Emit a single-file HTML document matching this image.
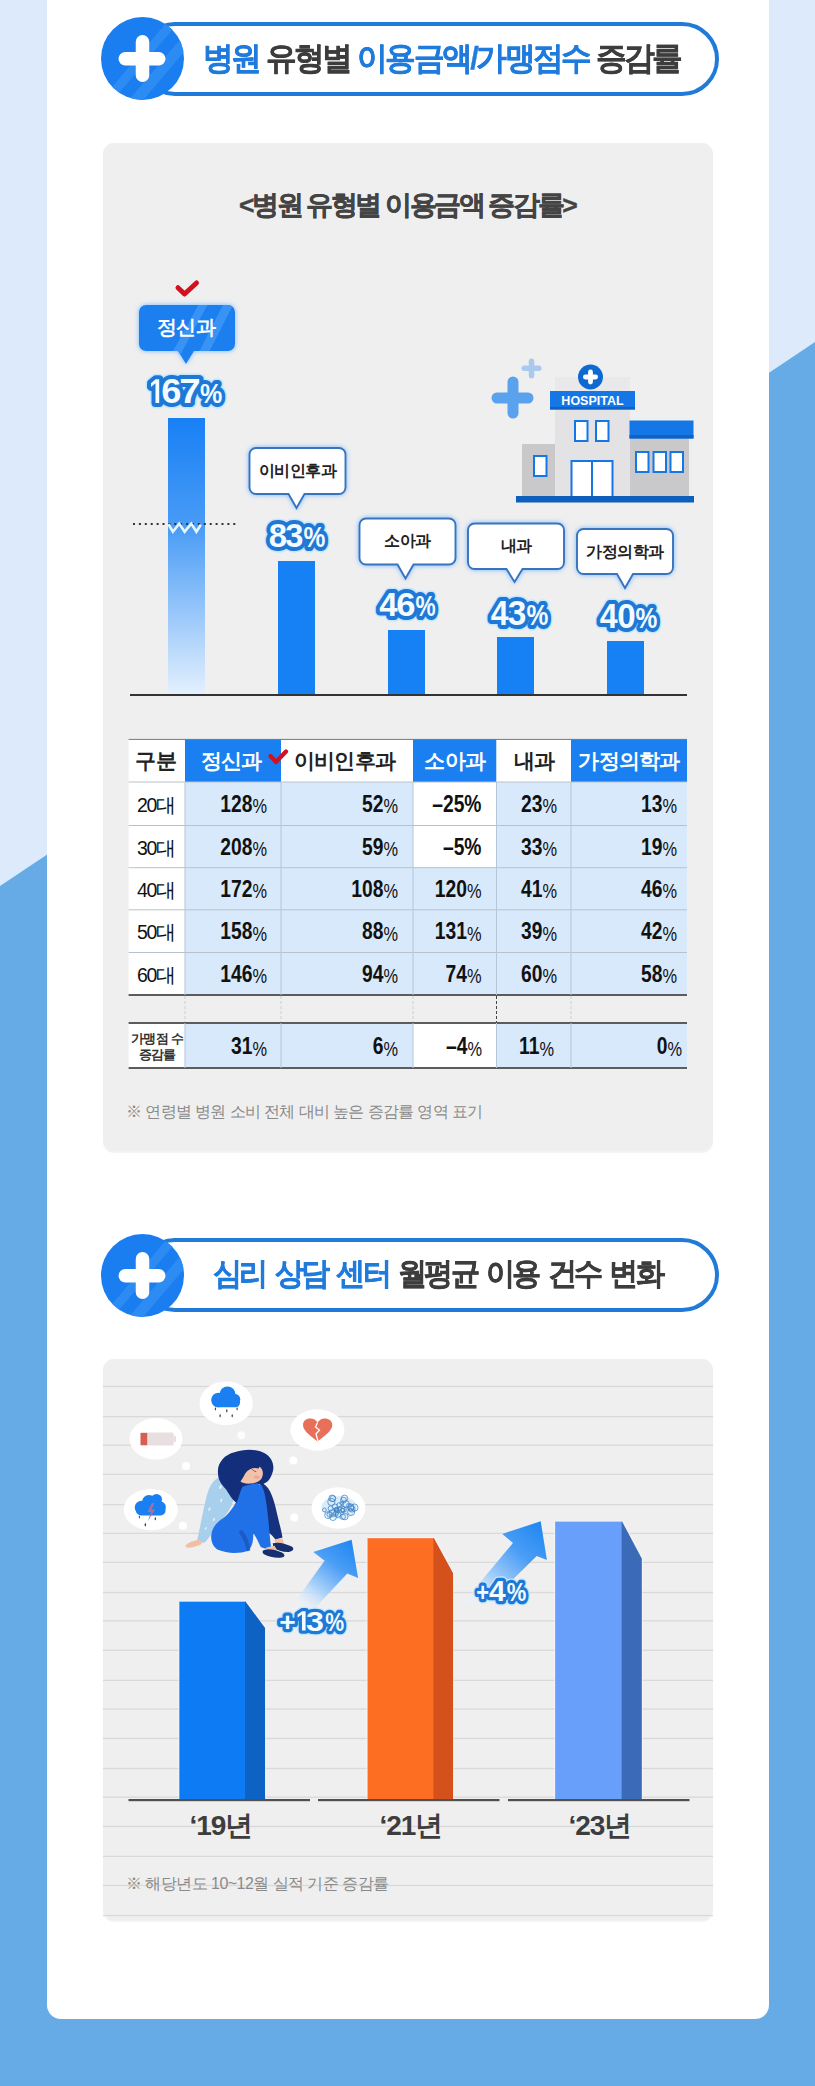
<!DOCTYPE html>
<html><head><meta charset="utf-8">
<style>
*{box-sizing:border-box;margin:0;padding:0}
html,body{width:815px;height:2086px;overflow:hidden}
body{position:relative;background:#dceafb;font-family:"Liberation Sans",sans-serif;color:#333}
.abs{position:absolute}
#bg{position:absolute;left:0;top:0}
#card{position:absolute;left:47px;top:-30px;width:722px;height:2049px;background:#fff;border-radius:14px}
.pill{position:absolute;left:138px;width:581px;height:74px;border:4.6px solid #1f7ad9;border-radius:37px;background:#fff}
.circ{position:absolute;width:83px;height:83px}
.htxt{position:absolute;font-weight:bold;white-space:nowrap;color:#3d3d3d;-webkit-text-stroke:0.35px currentColor}
.htxt b{color:#1f7bdc}
.panel{position:absolute;left:103px;width:610px;background:#efefef;border-radius:11px;box-shadow:0 1.5px 1px rgba(0,0,0,0.05)}
.lbl{text-align:center;font-weight:bold;white-space:nowrap;color:#222;letter-spacing:-0.5px}
.pg,.pst,.pf,.pg2,.pst2{font-family:"Liberation Sans",sans-serif;font-weight:bold;stroke-linejoin:round}
.pg{fill:#c4e8ff;stroke:#c4e8ff;stroke-width:11}
.pst{fill:#1f78d6;stroke:#1f78d6;stroke-width:8}
.pg2{fill:#c4e8ff;stroke:#c4e8ff;stroke-width:9}
.pst2{fill:#1f78d6;stroke:#1f78d6;stroke-width:6.5}
.pf{fill:#f2fbff;stroke:none}
.th{font-family:"Liberation Sans",sans-serif;font-weight:bold;font-size:21px;text-anchor:middle;letter-spacing:-0.8px}
.tl{font-family:"Liberation Sans",sans-serif;font-size:19.5px;text-anchor:middle;fill:#111;letter-spacing:-1.2px}
.tk{font-family:"Liberation Sans",sans-serif;font-size:13px;font-weight:bold;text-anchor:middle;fill:#333;letter-spacing:-0.8px}
.tn{font-family:"Liberation Sans",sans-serif;font-size:23.5px;font-weight:bold;fill:#111}
.tp{font-weight:normal;font-size:20px}
.yr{font-family:"Liberation Sans",sans-serif;font-weight:bold;font-size:28px;fill:#3d3d3d;letter-spacing:-1px}
</style></head>
<body>
<svg id="bg" width="815" height="2086"><polygon points="0,886 815,342 815,2086 0,2086" fill="#67abe6"/></svg>
<div id="card"></div>

<!-- header 1 -->
<div class="pill" style="top:21.5px"></div>
<svg class="circ" style="left:101px;top:17px" viewBox="0 0 83 83">
  <defs><clipPath id="cc1"><circle cx="41.5" cy="41.5" r="41.5"/></clipPath></defs>
  <circle cx="41.5" cy="41.5" r="41.5" fill="#1b7ef0"/>
  <g clip-path="url(#cc1)" stroke="#2d8cf4" fill="none">
    <line x1="82" y1="-7" x2="2" y2="88" stroke-width="9"/>
    <line x1="95" y1="12" x2="25" y2="95" stroke-width="11"/>
  </g>
  <rect x="17.5" y="35" width="47" height="13.5" rx="6.75" fill="#fff"/>
  <rect x="34.75" y="18" width="13.5" height="47" rx="6.75" fill="#fff"/>
</svg>
<div class="htxt" id="h1" style="left:203px;top:37px;font-size:32px;letter-spacing:-2.5px;word-spacing:0px;transform:scaleX(0.96);transform-origin:0 0"><b>병원</b> 유형별 <b>이용금액/가맹점수</b> 증감률</div>

<!-- panel 1 -->
<div class="panel" style="top:143px;height:1008px"></div>


<!-- chart 1 -->
<div class="abs" id="c1title" style="left:239px;top:187px;font-size:26.5px;font-weight:bold;color:#444;white-space:nowrap;letter-spacing:-2.4px;-webkit-text-stroke:0.4px #444">&lt;병원 유형별 이용금액 증감률&gt;</div>
<svg class="abs" style="left:0;top:0" width="815" height="720">
  <defs>
    <linearGradient id="g1" x1="0" y1="0" x2="0" y2="1">
      <stop offset="0" stop-color="#1880f5"/>
      <stop offset="0.4" stop-color="#4a9cf6"/>
      <stop offset="1" stop-color="#e3f0fe"/>
    </linearGradient>
    <filter id="glow" x="-20%" y="-20%" width="140%" height="140%"><feDropShadow dx="0" dy="0" stdDeviation="2.4" flood-color="#74b8ff" flood-opacity="1"/></filter>
    <clipPath id="bb1"><path d="M146,305 h82 a7,7 0 0 1 7,7 v32 a7,7 0 0 1 -7,7 h-34 l-8,13 l-8,-13 h-32 a7,7 0 0 1 -7,-7 v-32 a7,7 0 0 1 7,-7z"/></clipPath>
  </defs>
  <!-- bars -->
  <rect x="168" y="418" width="37" height="276" fill="url(#g1)"/>
  <rect x="278" y="561" width="37" height="133" fill="#1680f5"/>
  <rect x="388" y="630" width="37" height="64" fill="#1680f5"/>
  <rect x="497" y="637" width="37" height="57" fill="#1680f5"/>
  <rect x="607" y="641" width="37" height="53" fill="#1680f5"/>
  <line x1="130" y1="695" x2="687" y2="695" stroke="#333" stroke-width="2"/>
  <!-- dotted -->
  <line x1="133" y1="524" x2="237" y2="524" stroke="#333" stroke-width="2" stroke-dasharray="2,3.9"/>
  <polyline points="168.4,524.3 172.9,531.7 179.2,523.6 184.6,531.7 191.3,523.6 196.4,531.7 200.8,524.7" fill="none" stroke="#e6f6ff" stroke-width="2.6"/>
  <!-- check -->
  <polyline points="178,287.7 184.5,294 196.5,283" fill="none" stroke="#d60f1e" stroke-width="5" stroke-linecap="round" stroke-linejoin="round"/>
  <!-- blue bubble -->
  <g filter="url(#glow)">
    <path d="M146,305 h82 a7,7 0 0 1 7,7 v32 a7,7 0 0 1 -7,7 h-34 l-8,13 l-8,-13 h-32 a7,7 0 0 1 -7,-7 v-32 a7,7 0 0 1 7,-7z" fill="#1b7ff0"/>
  </g>
  <g clip-path="url(#bb1)" stroke="#3893f5" fill="none">
    <line x1="204" y1="303" x2="175" y2="356" stroke-width="8"/>
    <line x1="229" y1="303" x2="202" y2="356" stroke-width="9"/>
  </g>
  <!-- white bubbles -->
  <g filter="url(#glow)" fill="#fff" stroke="#3873bf" stroke-width="1.9">
    <path d="M256,448 h83 a6.5,6.5 0 0 1 6.5,6.5 v33 a6.5,6.5 0 0 1 -6.5,6.5 h-34.5 l-8,14 l-8,-14 h-32.5 a6.5,6.5 0 0 1 -6.5,-6.5 v-33 a6.5,6.5 0 0 1 6.5,-6.5z"/>
    <path d="M366,518.5 h83 a6.5,6.5 0 0 1 6.5,6.5 v33 a6.5,6.5 0 0 1 -6.5,6.5 h-35.5 l-8,14 l-8,-14 h-31.5 a6.5,6.5 0 0 1 -6.5,-6.5 v-33 a6.5,6.5 0 0 1 6.5,-6.5z"/>
    <path d="M474.5,523.5 h83 a6.5,6.5 0 0 1 6.5,6.5 v32.5 a6.5,6.5 0 0 1 -6.5,6.5 h-35 l-8,13 l-8,-13 h-32 a6.5,6.5 0 0 1 -6.5,-6.5 v-32.5 a6.5,6.5 0 0 1 6.5,-6.5z"/>
    <path d="M583.5,529 h83 a6.5,6.5 0 0 1 6.5,6.5 v32 a6.5,6.5 0 0 1 -6.5,6.5 h-33.5 l-8,14 l-8,-14 h-33.5 a6.5,6.5 0 0 1 -6.5,-6.5 v-32 a6.5,6.5 0 0 1 6.5,-6.5z"/>
  </g>
  <!-- hospital -->
  <g id="hosp">
    <rect x="491.5" y="392.5" width="42" height="11" rx="5.5" fill="#5aa2ee"/>
    <rect x="507.5" y="376.5" width="11" height="42" rx="5.5" fill="#5aa2ee"/>
    <rect x="521.5" y="365.5" width="20" height="5.5" rx="2.75" fill="#a9c9ef"/>
    <rect x="528.75" y="358.5" width="5.5" height="20" rx="2.75" fill="#a9c9ef"/>
    <rect x="555" y="377" width="75" height="15" fill="#e9e9eb"/>
    <rect x="555" y="392" width="75" height="105" fill="#e3e3e5"/>
    <rect x="522" y="444" width="33" height="53" fill="#c9c9cb"/>
    <rect x="630" y="436" width="59" height="61" fill="#c9c9cb"/>
    <rect x="629.5" y="420.5" width="64" height="18" fill="#1577e6"/>
    <rect x="629.5" y="435" width="64" height="3.5" fill="#0f62c4"/>
    <rect x="550" y="391" width="85" height="18.5" fill="#1577e6"/>
    <rect x="550" y="407" width="85" height="2.5" fill="#0f62c4"/>
    <circle cx="590.5" cy="377" r="12.5" fill="#0e69d2"/>
    <rect x="583" y="374.6" width="15" height="4.8" rx="2.4" fill="#fff"/>
    <rect x="588.1" y="369.5" width="4.8" height="15" rx="2.4" fill="#fff"/>
    <text x="592.5" y="405" text-anchor="middle" font-family="Liberation Sans" font-weight="bold" font-size="12.5" fill="#fff">HOSPITAL</text>
    <g fill="#fff" stroke="#1577e6" stroke-width="2">
      <rect x="575" y="421" width="12.5" height="20"/>
      <rect x="596" y="421" width="12.5" height="20"/>
      <rect x="534" y="456" width="12.5" height="20"/>
      <rect x="636" y="452" width="12.5" height="20"/>
      <rect x="653.5" y="452" width="12.5" height="20"/>
      <rect x="670.5" y="452" width="12.5" height="20"/>
      <rect x="571.5" y="461" width="41" height="36"/>
    </g>
    <line x1="592" y1="461" x2="592" y2="497" stroke="#1577e6" stroke-width="2"/>
    <rect x="516" y="496" width="178" height="6.5" fill="#0d5fbb"/>
  </g>
</svg>
<div class="abs lbl" style="left:138px;top:303.5px;width:96px;height:46px;line-height:46px;color:#fff;font-size:20px">정신과</div>
<div class="abs lbl" style="left:249px;top:448px;width:97px;height:46px;line-height:46px;font-size:16px">이비인후과</div>
<div class="abs lbl" style="left:359px;top:518px;width:97px;height:46px;line-height:46px;font-size:16px">소아과</div>
<div class="abs lbl" style="left:468px;top:523px;width:96px;height:46px;line-height:46px;font-size:16px">내과</div>
<div class="abs lbl" style="left:577px;top:529px;width:96px;height:45px;line-height:45px;font-size:16px">가정의학과</div>
<svg class="abs" style="left:0;top:0" width="815" height="720" id="pcts">
<path class="pg" vector-effect="non-scaling-stroke" transform="translate(149.15,403) scale(0.01325,-0.01680)" d="M478,0 L478,1170 L140,959 L140,1180 L493,1409 L759,1409 L759,0 Z"/>
<text class="pg" transform="translate(161.36,403) scale(1.053,1)" font-size="34.4">6</text>
<text class="pg" transform="translate(179.14,403) scale(1.122,1)" font-size="34.4">7</text>
<text class="pg" transform="translate(199.97,403) scale(0.895,1)" font-size="28">%</text>
<text class="pg" transform="translate(268.75,547.4) scale(0.990,1)" font-size="33.2">8</text>
<text class="pg" transform="translate(285.25,547.4) scale(0.982,1)" font-size="33.2">3</text>
<text class="pg" transform="translate(303.59,547.4) scale(0.848,1)" font-size="29">%</text>
<text class="pg" transform="translate(379.30,616.4) scale(0.980,1)" font-size="33.7">4</text>
<text class="pg" transform="translate(396.22,616.4) scale(1.026,1)" font-size="33.7">6</text>
<text class="pg" transform="translate(415.43,616.4) scale(0.782,1)" font-size="29">%</text>
<text class="pg" transform="translate(490.82,624.8) scale(0.933,1)" font-size="34.4">4</text>
<text class="pg" transform="translate(507.73,624.8) scale(0.971,1)" font-size="34.4">3</text>
<text class="pg" transform="translate(526.49,624.8) scale(0.833,1)" font-size="29.5">%</text>
<text class="pg" transform="translate(599.82,627.9) scale(0.933,1)" font-size="34.4">4</text>
<text class="pg" transform="translate(617.18,627.9) scale(0.961,1)" font-size="34.4">0</text>
<text class="pg" transform="translate(635.49,627.9) scale(0.833,1)" font-size="29.5">%</text>
<path class="pst" vector-effect="non-scaling-stroke" transform="translate(149.15,403) scale(0.01325,-0.01680)" d="M478,0 L478,1170 L140,959 L140,1180 L493,1409 L759,1409 L759,0 Z"/>
<text class="pst" transform="translate(161.36,403) scale(1.053,1)" font-size="34.4">6</text>
<text class="pst" transform="translate(179.14,403) scale(1.122,1)" font-size="34.4">7</text>
<text class="pst" transform="translate(199.97,403) scale(0.895,1)" font-size="28">%</text>
<text class="pst" transform="translate(268.75,547.4) scale(0.990,1)" font-size="33.2">8</text>
<text class="pst" transform="translate(285.25,547.4) scale(0.982,1)" font-size="33.2">3</text>
<text class="pst" transform="translate(303.59,547.4) scale(0.848,1)" font-size="29">%</text>
<text class="pst" transform="translate(379.30,616.4) scale(0.980,1)" font-size="33.7">4</text>
<text class="pst" transform="translate(396.22,616.4) scale(1.026,1)" font-size="33.7">6</text>
<text class="pst" transform="translate(415.43,616.4) scale(0.782,1)" font-size="29">%</text>
<text class="pst" transform="translate(490.82,624.8) scale(0.933,1)" font-size="34.4">4</text>
<text class="pst" transform="translate(507.73,624.8) scale(0.971,1)" font-size="34.4">3</text>
<text class="pst" transform="translate(526.49,624.8) scale(0.833,1)" font-size="29.5">%</text>
<text class="pst" transform="translate(599.82,627.9) scale(0.933,1)" font-size="34.4">4</text>
<text class="pst" transform="translate(617.18,627.9) scale(0.961,1)" font-size="34.4">0</text>
<text class="pst" transform="translate(635.49,627.9) scale(0.833,1)" font-size="29.5">%</text>
<path class="pf" vector-effect="non-scaling-stroke" transform="translate(149.15,403) scale(0.01325,-0.01680)" d="M478,0 L478,1170 L140,959 L140,1180 L493,1409 L759,1409 L759,0 Z"/>
<text class="pf" transform="translate(161.36,403) scale(1.053,1)" font-size="34.4">6</text>
<text class="pf" transform="translate(179.14,403) scale(1.122,1)" font-size="34.4">7</text>
<text class="pf" transform="translate(199.97,403) scale(0.895,1)" font-size="28">%</text>
<text class="pf" transform="translate(268.75,547.4) scale(0.990,1)" font-size="33.2">8</text>
<text class="pf" transform="translate(285.25,547.4) scale(0.982,1)" font-size="33.2">3</text>
<text class="pf" transform="translate(303.59,547.4) scale(0.848,1)" font-size="29">%</text>
<text class="pf" transform="translate(379.30,616.4) scale(0.980,1)" font-size="33.7">4</text>
<text class="pf" transform="translate(396.22,616.4) scale(1.026,1)" font-size="33.7">6</text>
<text class="pf" transform="translate(415.43,616.4) scale(0.782,1)" font-size="29">%</text>
<text class="pf" transform="translate(490.82,624.8) scale(0.933,1)" font-size="34.4">4</text>
<text class="pf" transform="translate(507.73,624.8) scale(0.971,1)" font-size="34.4">3</text>
<text class="pf" transform="translate(526.49,624.8) scale(0.833,1)" font-size="29.5">%</text>
<text class="pf" transform="translate(599.82,627.9) scale(0.933,1)" font-size="34.4">4</text>
<text class="pf" transform="translate(617.18,627.9) scale(0.961,1)" font-size="34.4">0</text>
<text class="pf" transform="translate(635.49,627.9) scale(0.833,1)" font-size="29.5">%</text>
</svg>

<!-- table -->
<svg class="abs" style="left:0;top:0" width="815" height="1100" id="tbl">
<rect x="128.6" y="739.4" width="56.4" height="42.6" fill="#fff"/>
<rect x="185" y="739.4" width="96.0" height="42.6" fill="#1a7ff0"/>
<rect x="281" y="739.4" width="132.0" height="42.6" fill="#fff"/>
<rect x="413" y="739.4" width="83.5" height="42.6" fill="#1a7ff0"/>
<rect x="496.5" y="739.4" width="74.5" height="42.6" fill="#fff"/>
<rect x="571" y="739.4" width="116.0" height="42.6" fill="#1a7ff0"/>
<rect x="128.6" y="782" width="56.4" height="43.5" fill="#fff"/>
<rect x="185" y="782" width="96.0" height="43.5" fill="#d7e9fb"/>
<rect x="281" y="782" width="132.0" height="43.5" fill="#d7e9fb"/>
<rect x="413" y="782" width="83.5" height="43.5" fill="#fff"/>
<rect x="496.5" y="782" width="74.5" height="43.5" fill="#d7e9fb"/>
<rect x="571" y="782" width="116.0" height="43.5" fill="#d7e9fb"/>
<rect x="128.6" y="825.5" width="56.4" height="42.2" fill="#fff"/>
<rect x="185" y="825.5" width="96.0" height="42.2" fill="#d7e9fb"/>
<rect x="281" y="825.5" width="132.0" height="42.2" fill="#d7e9fb"/>
<rect x="413" y="825.5" width="83.5" height="42.2" fill="#fff"/>
<rect x="496.5" y="825.5" width="74.5" height="42.2" fill="#d7e9fb"/>
<rect x="571" y="825.5" width="116.0" height="42.2" fill="#d7e9fb"/>
<rect x="128.6" y="867.7" width="56.4" height="42.1" fill="#fff"/>
<rect x="185" y="867.7" width="96.0" height="42.1" fill="#d7e9fb"/>
<rect x="281" y="867.7" width="132.0" height="42.1" fill="#d7e9fb"/>
<rect x="413" y="867.7" width="83.5" height="42.1" fill="#d7e9fb"/>
<rect x="496.5" y="867.7" width="74.5" height="42.1" fill="#d7e9fb"/>
<rect x="571" y="867.7" width="116.0" height="42.1" fill="#d7e9fb"/>
<rect x="128.6" y="909.8" width="56.4" height="42.7" fill="#fff"/>
<rect x="185" y="909.8" width="96.0" height="42.7" fill="#d7e9fb"/>
<rect x="281" y="909.8" width="132.0" height="42.7" fill="#d7e9fb"/>
<rect x="413" y="909.8" width="83.5" height="42.7" fill="#d7e9fb"/>
<rect x="496.5" y="909.8" width="74.5" height="42.7" fill="#d7e9fb"/>
<rect x="571" y="909.8" width="116.0" height="42.7" fill="#d7e9fb"/>
<rect x="128.6" y="952.5" width="56.4" height="42.5" fill="#fff"/>
<rect x="185" y="952.5" width="96.0" height="42.5" fill="#d7e9fb"/>
<rect x="281" y="952.5" width="132.0" height="42.5" fill="#d7e9fb"/>
<rect x="413" y="952.5" width="83.5" height="42.5" fill="#d7e9fb"/>
<rect x="496.5" y="952.5" width="74.5" height="42.5" fill="#d7e9fb"/>
<rect x="571" y="952.5" width="116.0" height="42.5" fill="#d7e9fb"/>
<rect x="128.6" y="1023" width="56.4" height="45" fill="#fff"/>
<rect x="185" y="1023" width="96.0" height="45" fill="#d7e9fb"/>
<rect x="281" y="1023" width="132.0" height="45" fill="#d7e9fb"/>
<rect x="413" y="1023" width="83.5" height="45" fill="#fff"/>
<rect x="496.5" y="1023" width="74.5" height="45" fill="#d7e9fb"/>
<rect x="571" y="1023" width="116.0" height="45" fill="#d7e9fb"/>
<line x1="128.6" y1="739.4" x2="687" y2="739.4" stroke="#777" stroke-width="1"/>
<line x1="128.6" y1="782" x2="687" y2="782" stroke="#b9c2cc" stroke-width="1"/>
<line x1="128.6" y1="825.5" x2="687" y2="825.5" stroke="#b9c2cc" stroke-width="1"/>
<line x1="128.6" y1="867.7" x2="687" y2="867.7" stroke="#b9c2cc" stroke-width="1"/>
<line x1="128.6" y1="909.8" x2="687" y2="909.8" stroke="#b9c2cc" stroke-width="1"/>
<line x1="128.6" y1="952.5" x2="687" y2="952.5" stroke="#b9c2cc" stroke-width="1"/>
<line x1="128.6" y1="995" x2="687" y2="995" stroke="#5c5c5c" stroke-width="1.8"/>
<line x1="128.6" y1="1023" x2="687" y2="1023" stroke="#5c5c5c" stroke-width="1.8"/>
<line x1="128.6" y1="1068" x2="687" y2="1068" stroke="#5c5c5c" stroke-width="1.8"/>
<line x1="185" y1="782" x2="185" y2="995" stroke="#b3c6da" stroke-width="1"/>
<line x1="185" y1="1023" x2="185" y2="1068" stroke="#b3c6da" stroke-width="1"/>
<line x1="185" y1="996" x2="185" y2="1022" stroke="#cdcdcd" stroke-width="1" stroke-dasharray="3,2"/>
<line x1="281" y1="782" x2="281" y2="995" stroke="#b3c6da" stroke-width="1"/>
<line x1="281" y1="1023" x2="281" y2="1068" stroke="#b3c6da" stroke-width="1"/>
<line x1="281" y1="996" x2="281" y2="1022" stroke="#cdcdcd" stroke-width="1" stroke-dasharray="3,2"/>
<line x1="413" y1="782" x2="413" y2="995" stroke="#b3c6da" stroke-width="1"/>
<line x1="413" y1="1023" x2="413" y2="1068" stroke="#b3c6da" stroke-width="1"/>
<line x1="413" y1="996" x2="413" y2="1022" stroke="#cdcdcd" stroke-width="1" stroke-dasharray="3,2"/>
<line x1="496.5" y1="782" x2="496.5" y2="995" stroke="#b3c6da" stroke-width="1"/>
<line x1="496.5" y1="1023" x2="496.5" y2="1068" stroke="#b3c6da" stroke-width="1"/>
<line x1="496.5" y1="996" x2="496.5" y2="1022" stroke="#444" stroke-width="1" stroke-dasharray="3,2"/>
<line x1="571" y1="782" x2="571" y2="995" stroke="#b3c6da" stroke-width="1"/>
<line x1="571" y1="1023" x2="571" y2="1068" stroke="#b3c6da" stroke-width="1"/>
<line x1="571" y1="996" x2="571" y2="1022" stroke="#cdcdcd" stroke-width="1" stroke-dasharray="3,2"/>
<text class="th" x="155.7" y="768" fill="#222">구분</text>
<text class="th" x="231.4" y="768" fill="#fff">정신과</text>
<text class="th" x="344.5" y="768" fill="#222">이비인후과</text>
<text class="th" x="454.7" y="768" fill="#fff">소아과</text>
<text class="th" x="534" y="768" fill="#222">내과</text>
<text class="th" x="629" y="768" fill="#fff">가정의학과</text>
<polyline points="270.5,756 276,762 286,751.5" fill="none" stroke="#d60f1e" stroke-width="4.2" stroke-linecap="round" stroke-linejoin="round"/>
<text class="tl" x="156" y="812.0">20대</text>
<text class="tn" transform="translate(267,812.0) scale(0.82,1)" text-anchor="end">128<tspan class="tp" dy="1.3">%</tspan></text>
<text class="tn" transform="translate(398,812.0) scale(0.82,1)" text-anchor="end">52<tspan class="tp" dy="1.3">%</tspan></text>
<text class="tn" transform="translate(481.5,812.0) scale(0.82,1)" text-anchor="end">–25%</text>
<text class="tn" transform="translate(557,812.0) scale(0.82,1)" text-anchor="end">23<tspan class="tp" dy="1.3">%</tspan></text>
<text class="tn" transform="translate(677,812.0) scale(0.82,1)" text-anchor="end">13<tspan class="tp" dy="1.3">%</tspan></text>
<text class="tl" x="156" y="854.8">30대</text>
<text class="tn" transform="translate(267,854.8) scale(0.82,1)" text-anchor="end">208<tspan class="tp" dy="1.3">%</tspan></text>
<text class="tn" transform="translate(398,854.8) scale(0.82,1)" text-anchor="end">59<tspan class="tp" dy="1.3">%</tspan></text>
<text class="tn" transform="translate(481.5,854.8) scale(0.82,1)" text-anchor="end">–5%</text>
<text class="tn" transform="translate(557,854.8) scale(0.82,1)" text-anchor="end">33<tspan class="tp" dy="1.3">%</tspan></text>
<text class="tn" transform="translate(677,854.8) scale(0.82,1)" text-anchor="end">19<tspan class="tp" dy="1.3">%</tspan></text>
<text class="tl" x="156" y="897.0">40대</text>
<text class="tn" transform="translate(267,897.0) scale(0.82,1)" text-anchor="end">172<tspan class="tp" dy="1.3">%</tspan></text>
<text class="tn" transform="translate(398,897.0) scale(0.82,1)" text-anchor="end">108<tspan class="tp" dy="1.3">%</tspan></text>
<text class="tn" transform="translate(481.5,897.0) scale(0.82,1)" text-anchor="end">120<tspan class="tp" dy="1.3">%</tspan></text>
<text class="tn" transform="translate(557,897.0) scale(0.82,1)" text-anchor="end">41<tspan class="tp" dy="1.3">%</tspan></text>
<text class="tn" transform="translate(677,897.0) scale(0.82,1)" text-anchor="end">46<tspan class="tp" dy="1.3">%</tspan></text>
<text class="tl" x="156" y="939.4">50대</text>
<text class="tn" transform="translate(267,939.4) scale(0.82,1)" text-anchor="end">158<tspan class="tp" dy="1.3">%</tspan></text>
<text class="tn" transform="translate(398,939.4) scale(0.82,1)" text-anchor="end">88<tspan class="tp" dy="1.3">%</tspan></text>
<text class="tn" transform="translate(481.5,939.4) scale(0.82,1)" text-anchor="end">131<tspan class="tp" dy="1.3">%</tspan></text>
<text class="tn" transform="translate(557,939.4) scale(0.82,1)" text-anchor="end">39<tspan class="tp" dy="1.3">%</tspan></text>
<text class="tn" transform="translate(677,939.4) scale(0.82,1)" text-anchor="end">42<tspan class="tp" dy="1.3">%</tspan></text>
<text class="tl" x="156" y="982.0">60대</text>
<text class="tn" transform="translate(267,982.0) scale(0.82,1)" text-anchor="end">146<tspan class="tp" dy="1.3">%</tspan></text>
<text class="tn" transform="translate(398,982.0) scale(0.82,1)" text-anchor="end">94<tspan class="tp" dy="1.3">%</tspan></text>
<text class="tn" transform="translate(481.5,982.0) scale(0.82,1)" text-anchor="end">74<tspan class="tp" dy="1.3">%</tspan></text>
<text class="tn" transform="translate(557,982.0) scale(0.82,1)" text-anchor="end">60<tspan class="tp" dy="1.3">%</tspan></text>
<text class="tn" transform="translate(677,982.0) scale(0.82,1)" text-anchor="end">58<tspan class="tp" dy="1.3">%</tspan></text>
<text class="tk" x="157" y="1043">가맹점 수</text>
<text class="tk" x="157" y="1058.5">증감률</text>
<text class="tn" transform="translate(267,1054.2) scale(0.82,1)" text-anchor="end">31<tspan class="tp" dy="1.3">%</tspan></text>
<text class="tn" transform="translate(398,1054.2) scale(0.82,1)" text-anchor="end">6<tspan class="tp" dy="1.3">%</tspan></text>
<text class="tn" transform="translate(482,1054.2) scale(0.82,1)" text-anchor="end">–4<tspan class="tp" dy="1.3">%</tspan></text>
<text class="tn" transform="translate(554,1054.2) scale(0.82,1)" text-anchor="end">11<tspan class="tp" dy="1.3">%</tspan></text>
<text class="tn" transform="translate(682,1054.2) scale(0.82,1)" text-anchor="end">0<tspan class="tp" dy="1.3">%</tspan></text>
</svg>

<div class="abs" style="left:126px;top:1102px;font-size:15.5px;color:#8a8a8a;white-space:nowrap;letter-spacing:-0.6px">※ 연령별 병원 소비 전체 대비 높은 증감률 영역 표기</div>

<!-- header 2 -->
<div class="pill" style="top:1237.5px"></div>
<svg class="circ" style="left:100.5px;top:1234px" viewBox="0 0 83 83">
  <defs><clipPath id="cc2"><circle cx="41.5" cy="41.5" r="41.5"/></clipPath></defs>
  <circle cx="41.5" cy="41.5" r="41.5" fill="#1b7ef0"/>
  <g clip-path="url(#cc2)" stroke="#2d8cf4" fill="none">
    <line x1="82" y1="-7" x2="2" y2="88" stroke-width="9"/>
    <line x1="95" y1="12" x2="25" y2="95" stroke-width="11"/>
  </g>
  <rect x="17.5" y="35" width="47" height="13.5" rx="6.75" fill="#fff"/>
  <rect x="34.75" y="18" width="13.5" height="47" rx="6.75" fill="#fff"/>
</svg>
<div class="htxt" id="h2" style="left:213px;top:1253px;font-size:31px;letter-spacing:-3px;word-spacing:4px;transform:scaleX(0.94);transform-origin:0 0"><b>심리 상담 센터</b> 월평균 이용 건수 변화</div>

<!-- panel 2 -->
<div class="panel" style="top:1359px;height:561px"></div>
<svg class="abs" style="left:0;top:0" width="815" height="1930" id="c2">
<defs>
<linearGradient id="ag1" gradientUnits="userSpaceOnUse" x1="352" y1="1540" x2="300" y2="1606">
<stop offset="0" stop-color="#1f86f2"/><stop offset="0.35" stop-color="#4a9df5"/><stop offset="0.7" stop-color="#a9d1fa"/><stop offset="1" stop-color="#eef6fe" stop-opacity="0.3"/></linearGradient>
<linearGradient id="ag2" gradientUnits="userSpaceOnUse" x1="541" y1="1521" x2="470" y2="1603">
<stop offset="0" stop-color="#1f86f2"/><stop offset="0.35" stop-color="#4a9df5"/><stop offset="0.7" stop-color="#a9d1fa"/><stop offset="1" stop-color="#eef6fe" stop-opacity="0.3"/></linearGradient>
<filter id="wglow" x="-20%" y="-20%" width="140%" height="140%"><feDropShadow dx="0" dy="0" stdDeviation="1.2" flood-color="#fff" flood-opacity="1"/></filter>
</defs>
<rect x="103" y="1385.8" width="610" height="1.3" fill="#d9d9d9"/>
<rect x="103" y="1416.0" width="610" height="1.3" fill="#d9d9d9"/>
<rect x="103" y="1444.6" width="610" height="1.3" fill="#d9d9d9"/>
<rect x="103" y="1473.7" width="610" height="1.3" fill="#d9d9d9"/>
<rect x="103" y="1504.0" width="610" height="1.3" fill="#d9d9d9"/>
<rect x="103" y="1532.7" width="610" height="1.3" fill="#d9d9d9"/>
<rect x="103" y="1561.7" width="610" height="1.3" fill="#d9d9d9"/>
<rect x="103" y="1591.9" width="610" height="1.3" fill="#d9d9d9"/>
<rect x="103" y="1620.2" width="610" height="1.3" fill="#d9d9d9"/>
<rect x="103" y="1649.6" width="610" height="1.3" fill="#d9d9d9"/>
<rect x="103" y="1679.7" width="610" height="1.3" fill="#d9d9d9"/>
<rect x="103" y="1708.4" width="610" height="1.3" fill="#d9d9d9"/>
<rect x="103" y="1737.8" width="610" height="1.3" fill="#d9d9d9"/>
<rect x="103" y="1767.8" width="610" height="1.3" fill="#d9d9d9"/>
<rect x="103" y="1796.5" width="610" height="1.3" fill="#d9d9d9"/>
<rect x="103" y="1825.8" width="610" height="1.3" fill="#d9d9d9"/>
<rect x="103" y="1855.7" width="610" height="1.3" fill="#d9d9d9"/>
<rect x="103" y="1884.8" width="610" height="1.3" fill="#d9d9d9"/>
<rect x="103" y="1914.9" width="610" height="1.3" fill="#d9d9d9"/>
<g id="illus">
<g fill="#fff">
<ellipse cx="226.2" cy="1403.3" rx="26.7" ry="21.9"/>
<ellipse cx="156" cy="1438.8" rx="26.5" ry="20.7"/>
<ellipse cx="317.4" cy="1430" rx="27" ry="20.7"/>
<ellipse cx="150.7" cy="1509.7" rx="27" ry="20.7"/>
<ellipse cx="338.5" cy="1508" rx="27" ry="20.7"/>
<circle cx="241.2" cy="1435.3" r="4" opacity="0.8"/>
<circle cx="293.3" cy="1460.4" r="4"/>
<circle cx="186" cy="1466" r="4"/>
<circle cx="294.2" cy="1517.5" r="4"/>
<circle cx="182.9" cy="1525.8" r="4"/>
</g>
<!-- rain cloud -->
<g fill="#1a7ff0"><circle cx="218.5" cy="1400" r="7.3"/><circle cx="227.5" cy="1394.5" r="8"/><circle cx="234.5" cy="1399.5" r="5.8"/><rect x="213" y="1398" width="27" height="9.3" rx="4.6"/></g>
<g fill="#2d3440"><path d="M215.4,1407.1 Q216.9,1409.5 215.4,1410.7 Q213.9,1409.5 215.4,1407.1 Z"/><path d="M226.8,1408.8 Q228.3,1411.2 226.8,1412.4 Q225.3,1411.2 226.8,1408.8 Z"/><path d="M237.1,1407.1 Q238.6,1409.5 237.1,1410.7 Q235.6,1409.5 237.1,1407.1 Z"/><path d="M220.1,1413.8 Q221.6,1416.2 220.1,1417.4 Q218.6,1416.2 220.1,1413.8 Z"/><path d="M232.2,1413.8 Q233.7,1416.2 232.2,1417.4 Q230.7,1416.2 232.2,1413.8 Z"/></g>
<!-- battery -->
<rect x="140.2" y="1432.6" width="33.5" height="12.9" rx="1.5" fill="#e7dfe0"/>
<rect x="173.7" y="1436" width="2.2" height="6" fill="#e7dfe0"/>
<rect x="140.6" y="1432.9" width="6.6" height="12.3" fill="#d6604f"/>
<!-- heart -->
<path d="M317.6,1441.4 C311,1436 303,1431 303,1425 C303,1420 307,1418.4 310.5,1418.4 C313.5,1418.4 316,1420 317.6,1422.5 C319.2,1420 321.7,1418.4 324.7,1418.4 C328.5,1418.4 332.3,1420.5 332.3,1425 C332.3,1431 324,1436 317.6,1441.4 Z" fill="#e86f5a"/>
<polyline points="317.6,1422.5 315.5,1427 319.5,1430 316,1434 318,1441" fill="none" stroke="#fff" stroke-width="1.3"/>
<!-- storm cloud -->
<g fill="#1a7ff0"><circle cx="141.5" cy="1507.5" r="6.8"/><circle cx="149" cy="1502" r="7"/><circle cx="156.5" cy="1499.5" r="5.5"/><circle cx="160" cy="1507" r="5.8"/><rect x="136" y="1505" width="29.5" height="10.5" rx="5"/></g>
<polygon points="152,1503 147.5,1512 151,1512 148,1521 155,1509.5 151.5,1509.5 154.5,1503" fill="#a9709c"/>
<g fill="#2d3440"><path d="M139.3,1515.3 Q140.8,1517.7 139.3,1518.9 Q137.8,1517.7 139.3,1515.3 Z"/><path d="M155.3,1516.8 Q156.8,1519.2 155.3,1520.4 Q153.8,1519.2 155.3,1516.8 Z"/><path d="M145.3,1522.8 Q146.8,1525.2 145.3,1526.4 Q143.8,1525.2 145.3,1522.8 Z"/></g>
<!-- tangle -->
<ellipse cx="339" cy="1507.5" rx="17.5" ry="11.5" fill="#d9ecfa"/>
<g fill="none" stroke="#3c82c6" stroke-width="0.75"><circle cx="330.6" cy="1508.4" r="2.5"/><circle cx="342.3" cy="1510.1" r="1.9"/><circle cx="331.3" cy="1501.9" r="3.6"/><circle cx="338.0" cy="1514.6" r="2.7"/><circle cx="343.5" cy="1500.2" r="2.9"/><circle cx="350.8" cy="1508.0" r="3.1"/><circle cx="344.5" cy="1498.3" r="3.2"/><circle cx="341.9" cy="1503.3" r="1.9"/><circle cx="350.7" cy="1506.9" r="3.1"/><circle cx="351.1" cy="1512.0" r="3.5"/><circle cx="335.6" cy="1513.8" r="2.6"/><circle cx="337.0" cy="1510.2" r="2.3"/><circle cx="339.2" cy="1505.1" r="2.4"/><circle cx="341.7" cy="1509.3" r="3.4"/><circle cx="344.8" cy="1516.5" r="3.3"/><circle cx="328.2" cy="1515.1" r="3.5"/><circle cx="352.0" cy="1509.0" r="3.1"/><circle cx="329.8" cy="1514.5" r="2.8"/><circle cx="332.1" cy="1498.3" r="3.3"/><circle cx="348.6" cy="1505.6" r="2.1"/><circle cx="332.4" cy="1513.1" r="3.4"/><circle cx="324.4" cy="1509.9" r="1.9"/><circle cx="346.0" cy="1504.0" r="3.4"/><circle cx="354.4" cy="1507.6" r="3.6"/><circle cx="332.9" cy="1498.6" r="2.9"/><circle cx="336.1" cy="1509.8" r="2.1"/><circle cx="333.0" cy="1517.1" r="3.4"/><circle cx="335.1" cy="1506.7" r="2.7"/><circle cx="343.6" cy="1509.5" r="2.8"/><circle cx="342.8" cy="1516.8" r="2.7"/><circle cx="336.8" cy="1512.1" r="2.2"/><circle cx="339.7" cy="1508.5" r="1.8"/><circle cx="336.3" cy="1509.2" r="1.8"/><circle cx="342.7" cy="1510.3" r="1.9"/></g>
<!-- woman -->
<g transform="translate(180,1440) scale(0.14725)">
<path d="M548,290 C600,300 632,380 652,470 C670,550 690,620 696,662 L648,676 C628,650 600,620 560,612 L492,640 C470,600 470,540 490,480 Z" fill="#16327f"/>
<path d="M640,678 L694,668 L710,712 L652,716 Z" fill="#f0bfa5"/>
<path d="M630,702 C672,690 724,708 758,724 C780,737 768,758 740,760 C700,762 660,748 634,733 Z" fill="#16306f"/>
<path d="M272,252 C322,248 356,292 364,332 C374,394 354,444 334,474 C304,524 244,604 172,692 C152,704 126,694 118,674 C136,600 148,520 172,420 C188,340 218,268 272,252 Z" fill="#a8cfeb"/>
<g fill="#e4f3fc"><ellipse cx="275" cy="320" rx="8" ry="14" transform="rotate(25 275 320)"/><ellipse cx="200" cy="470" rx="6" ry="12" transform="rotate(25 200 470)"/><ellipse cx="280" cy="410" rx="6" ry="12" transform="rotate(25 280 410)"/><ellipse cx="230" cy="540" rx="6" ry="11" transform="rotate(25 230 540)"/><ellipse cx="175" cy="600" rx="5" ry="10" transform="rotate(25 175 600)"/></g>
<path d="M38,716 C58,696 100,680 136,678 L148,706 C124,718 96,728 62,731 C44,731 32,724 38,716 Z" fill="#f0bfa5"/>
<path d="M415,318 C440,290 522,284 556,310 C582,362 592,462 602,562 C607,622 612,682 618,724 C594,740 562,740 546,724 C532,690 516,660 498,632 C498,690 490,728 462,752 C402,774 318,772 258,746 C224,726 210,690 212,650 C216,592 256,552 300,526 C340,490 376,440 394,390 C402,360 406,336 415,318 Z" fill="#2070e8"/>
<path d="M420,610 C452,646 470,694 478,748 C470,752 464,754 456,756 C444,706 424,656 398,626 Z" fill="#1a56bc" opacity="0.8"/>
<path d="M586,730 L642,718 L664,758 L600,764 Z" fill="#f0bfa5"/>
<path d="M568,748 C600,734 644,744 684,760 C716,772 718,794 690,798 C650,803 600,793 574,778 C558,768 558,752 568,748 Z" fill="#16306f"/>
<path d="M258,228 C250,160 300,100 370,84 C430,60 520,58 572,88 C624,114 644,170 630,216 C620,250 606,272 592,284 L560,302 C520,292 470,300 424,318 C404,360 398,400 384,426 C352,404 332,364 312,334 C282,304 260,274 258,228 Z" fill="#132f7c"/>
<path d="M432,212 C448,182 492,168 532,176 C562,188 570,224 557,254 C547,280 516,292 480,296 C450,298 420,294 410,280 C412,250 420,230 432,212 Z" fill="#f2c2aa"/>
<path d="M418,200 C440,168 500,158 544,174 L534,194 C502,184 462,196 442,230 C432,250 422,270 408,282 C398,252 404,222 418,200 Z" fill="#132f7c"/>
<path d="M488,196 C495,206 505,213 518,215" fill="none" stroke="#6b3b3b" stroke-width="5"/>
<ellipse cx="522" cy="252" rx="20" ry="11" fill="#ec9c97" opacity="0.8"/>
</g>
</g>

<g filter="url(#wglow)"><rect x="179.2" y="1601.5" width="66.4" height="198.5" fill="#0b7cf4"/>
<polygon points="245.0,1601.5 245.6,1601.5 265.1,1627.8 265.1,1800 245.0,1800" fill="#0b63c4"/></g>
<g filter="url(#wglow)"><rect x="367.4" y="1538.1" width="66.6" height="261.9" fill="#fd6e22"/>
<polygon points="433.4,1538.1 434,1538.1 453.1,1572.9 453.1,1800 433.4,1800" fill="#d4511a"/></g>
<g filter="url(#wglow)"><rect x="555.1" y="1521.5" width="67.1" height="278.5" fill="#689ffa"/>
<polygon points="621.6,1521.5 622.2,1521.5 641.9,1558.6 641.9,1800 621.6,1800" fill="#3a6ab8"/></g>
<rect x="128.5" y="1799" width="181.5" height="2.2" fill="#505050"/>
<rect x="318" y="1799" width="181.5" height="2.2" fill="#505050"/>
<rect x="508" y="1799" width="181.5" height="2.2" fill="#505050"/>
<path d="M294,1603 L324.6,1560.7 L313.2,1552.1 L351.6,1539.8 L358.1,1578.1 L347.3,1573.6 L314,1609 Z" fill="url(#ag1)"/>
<path d="M462,1604 L513,1542.9 L502.3,1533.9 L540.7,1521.3 L546.9,1560.1 L536.7,1556 L492,1600 Z" fill="url(#ag2)"/>
<text class="pg2" transform="translate(279.22,1630.6) scale(1.058,1)" font-size="26.6">+</text>
<path class="pg2" vector-effect="non-scaling-stroke" transform="translate(295.79,1630.6) scale(0.01292,-0.01367)" d="M478,0 L478,1170 L140,959 L140,1180 L493,1409 L759,1409 L759,0 Z"/>
<text class="pg2" transform="translate(306.06,1630.6) scale(1.150,1)" font-size="28">3</text>
<text class="pg2" transform="translate(325.27,1630.6) scale(0.817,1)" font-size="26">%</text>
<text class="pg2" transform="translate(476.28,1601.4) scale(0.825,1)" font-size="26.6">+</text>
<text class="pg2" transform="translate(488.95,1601.4) scale(1.029,1)" font-size="29">4</text>
<text class="pg2" transform="translate(506.65,1601.4) scale(0.845,1)" font-size="26">%</text>
<text class="pst2" transform="translate(279.22,1630.6) scale(1.058,1)" font-size="26.6">+</text>
<path class="pst2" vector-effect="non-scaling-stroke" transform="translate(295.79,1630.6) scale(0.01292,-0.01367)" d="M478,0 L478,1170 L140,959 L140,1180 L493,1409 L759,1409 L759,0 Z"/>
<text class="pst2" transform="translate(306.06,1630.6) scale(1.150,1)" font-size="28">3</text>
<text class="pst2" transform="translate(325.27,1630.6) scale(0.817,1)" font-size="26">%</text>
<text class="pst2" transform="translate(476.28,1601.4) scale(0.825,1)" font-size="26.6">+</text>
<text class="pst2" transform="translate(488.95,1601.4) scale(1.029,1)" font-size="29">4</text>
<text class="pst2" transform="translate(506.65,1601.4) scale(0.845,1)" font-size="26">%</text>
<text class="pf" transform="translate(279.22,1630.6) scale(1.058,1)" font-size="26.6">+</text>
<path class="pf" vector-effect="non-scaling-stroke" transform="translate(295.79,1630.6) scale(0.01292,-0.01367)" d="M478,0 L478,1170 L140,959 L140,1180 L493,1409 L759,1409 L759,0 Z"/>
<text class="pf" transform="translate(306.06,1630.6) scale(1.150,1)" font-size="28">3</text>
<text class="pf" transform="translate(325.27,1630.6) scale(0.817,1)" font-size="26">%</text>
<text class="pf" transform="translate(476.28,1601.4) scale(0.825,1)" font-size="26.6">+</text>
<text class="pf" transform="translate(488.95,1601.4) scale(1.029,1)" font-size="29">4</text>
<text class="pf" transform="translate(506.65,1601.4) scale(0.845,1)" font-size="26">%</text>
<text class="yr" x="189.5" y="1834.8">‘19년</text>
<text class="yr" x="379.5" y="1834.8">‘21년</text>
<text class="yr" x="568.5" y="1834.8">‘23년</text>
</svg>

<div class="abs" style="left:126px;top:1873.5px;font-size:16px;color:#8a8a8a;white-space:nowrap;letter-spacing:-0.55px">※ 해당년도 10~12월 실적 기준 증감률</div>

</body></html>
